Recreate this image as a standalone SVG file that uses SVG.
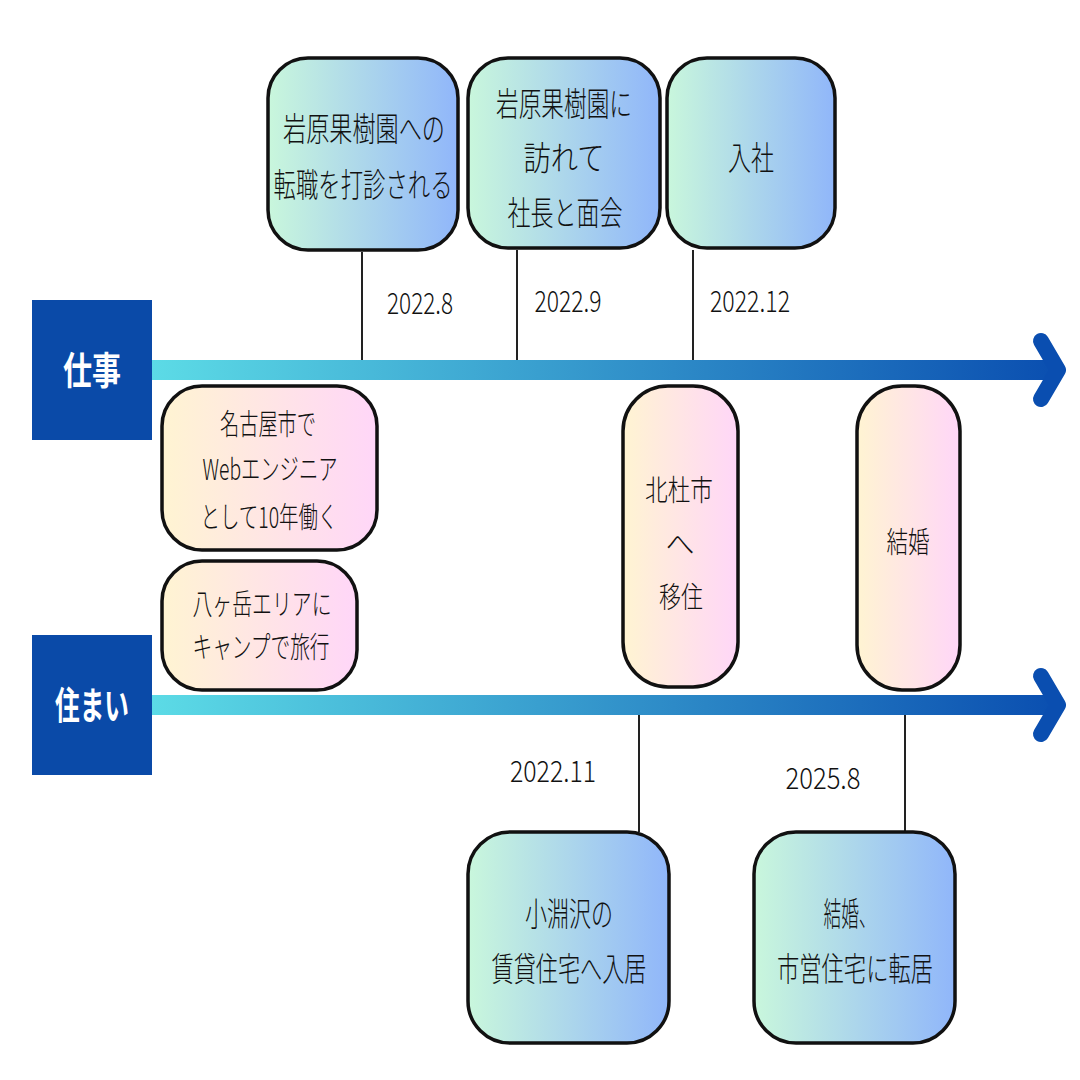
<svg xmlns="http://www.w3.org/2000/svg" width="1080" height="1080" viewBox="0 0 1080 1080">
<defs>
<linearGradient id="gBlue" x1="0" y1="0" x2="1" y2="0"><stop offset="0" stop-color="#c9f7dc"/><stop offset="1" stop-color="#90b6fa"/></linearGradient>
<linearGradient id="gPink" x1="0" y1="0" x2="1" y2="0"><stop offset="0" stop-color="#fff4d2"/><stop offset="1" stop-color="#ffd6f8"/></linearGradient>
<linearGradient id="gArrow" x1="152" y1="0" x2="1060" y2="0" gradientUnits="userSpaceOnUse"><stop offset="0" stop-color="#5cdbe6"/><stop offset="1" stop-color="#0a4eb0"/></linearGradient>
<style>
.box{stroke:#111;stroke-width:3.5}
.bl{fill:url(#gBlue)}
.pk{fill:url(#gPink)}
.t{font-family:"Noto Sans CJK JP","Noto Sans",sans-serif;fill:#111;text-anchor:middle;font-weight:300}
.big{font-size:33px}
.mid{font-size:29px}
.date{font-size:29px}
.lab{font-family:"Noto Sans CJK JP","Noto Sans",sans-serif;fill:#fff;font-weight:bold;font-size:38px;text-anchor:middle}
.stem{stroke:#222;stroke-width:2}
.band{fill:#0a4aa8}
.chev{fill:none;stroke:#0a4eb0;stroke-width:16;stroke-linecap:round;stroke-linejoin:round}
</style>
</defs>
<rect width="1080" height="1080" fill="#fff"/>

<g id="connectors">
<rect x="152" y="360" width="900" height="20" fill="url(#gArrow)"/>
<polyline class="chev" points="1041,341 1058,370 1041,399"/>
<rect x="152" y="695" width="900" height="20" fill="url(#gArrow)"/>
<polyline class="chev" points="1041,676 1058,705 1041,734"/>
<line class="stem" x1="362" y1="252" x2="362" y2="360"/>
<line class="stem" x1="517" y1="250" x2="517" y2="360"/>
<line class="stem" x1="693" y1="250" x2="693" y2="360"/>
<line class="stem" x1="639" y1="715" x2="639" y2="832"/>
<line class="stem" x1="905" y1="715" x2="905" y2="834"/>
</g>

<g id="label-shigoto">
<rect class="band" x="32" y="300" width="120" height="140"/>
<text class="lab" x="92" y="384" textLength="58" lengthAdjust="spacingAndGlyphs">仕事</text>
</g>
<g id="label-sumai">
<rect class="band" x="32" y="635" width="120" height="140"/>
<text class="lab" x="92" y="719" textLength="74" lengthAdjust="spacingAndGlyphs">住まい</text>
</g>

<g id="node-1">
<rect class="box bl" x="268" y="58" width="190" height="192" rx="40"/>
<text class="t big" x="364" y="141" textLength="162" lengthAdjust="spacingAndGlyphs">岩原果樹園への</text>
<text class="t big" x="363" y="197" textLength="179" lengthAdjust="spacingAndGlyphs">転職を打診される</text>
</g>
<g id="node-2">
<rect class="box bl" x="468" y="58" width="192" height="190" rx="40"/>
<text class="t big" x="564" y="116" textLength="136" lengthAdjust="spacingAndGlyphs">岩原果樹園に</text>
<text class="t big" x="564" y="170" textLength="81" lengthAdjust="spacingAndGlyphs">訪れて</text>
<text class="t big" x="565" y="225" textLength="115" lengthAdjust="spacingAndGlyphs">社長と面会</text>
</g>
<g id="node-3">
<rect class="box bl" x="667" y="58" width="168" height="190" rx="40"/>
<text class="t big" x="751" y="170" textLength="46" lengthAdjust="spacingAndGlyphs">入社</text>
</g>

<g id="date-1"><text class="t date" x="420" y="314" textLength="66" lengthAdjust="spacingAndGlyphs">2022.8</text></g>
<g id="date-2"><text class="t date" x="568" y="312" textLength="67" lengthAdjust="spacingAndGlyphs">2022.9</text></g>
<g id="date-3"><text class="t date" x="750" y="312" textLength="80" lengthAdjust="spacingAndGlyphs">2022.12</text></g>

<g id="node-4">
<rect class="box pk" x="162" y="386" width="215" height="164" rx="40"/>
<text class="t mid" x="268" y="435" textLength="96" lengthAdjust="spacingAndGlyphs">名古屋市で</text>
<text class="t mid" x="270" y="480" textLength="135" lengthAdjust="spacingAndGlyphs">Webエンジニア</text>
<text class="t mid" x="269" y="528" textLength="137" lengthAdjust="spacingAndGlyphs">として10年働く</text>
</g>
<g id="node-5">
<rect class="box pk" x="162" y="561" width="195" height="129" rx="40"/>
<text class="t mid" x="262" y="615" textLength="139" lengthAdjust="spacingAndGlyphs">八ヶ岳エリアに</text>
<text class="t mid" x="261" y="658" textLength="137" lengthAdjust="spacingAndGlyphs">キャンプで旅行</text>
</g>
<g id="node-6">
<rect class="box pk" x="623" y="386" width="115" height="301" rx="45"/>
<text class="t mid" x="679" y="501" textLength="68" lengthAdjust="spacingAndGlyphs">北杜市</text>
<text class="t mid" x="680" y="555">へ</text>
<text class="t mid" x="681" y="608" textLength="44" lengthAdjust="spacingAndGlyphs">移住</text>
</g>
<g id="node-7">
<rect class="box pk" x="857" y="386" width="103" height="304" rx="45"/>
<text class="t mid" x="908" y="553" textLength="43" lengthAdjust="spacingAndGlyphs">結婚</text>
</g>

<g id="date-4"><text class="t date" x="553" y="782" textLength="86" lengthAdjust="spacingAndGlyphs">2022.11</text></g>
<g id="date-5"><text class="t date" x="823" y="789" textLength="75" lengthAdjust="spacingAndGlyphs">2025.8</text></g>

<g id="node-8">
<rect class="box bl" x="468" y="832" width="201" height="211" rx="42"/>
<text class="t big" x="569" y="926" textLength="88" lengthAdjust="spacingAndGlyphs">小淵沢の</text>
<text class="t big" x="569" y="981" textLength="155" lengthAdjust="spacingAndGlyphs">賃貸住宅へ入居</text>
</g>
<g id="node-9">
<rect class="box bl" x="754" y="832" width="201" height="211" rx="42"/>
<text class="t big" x="850" y="926" textLength="53" lengthAdjust="spacingAndGlyphs">結婚、</text>
<text class="t big" x="855" y="981" textLength="156" lengthAdjust="spacingAndGlyphs">市営住宅に転居</text>
</g>
</svg>
